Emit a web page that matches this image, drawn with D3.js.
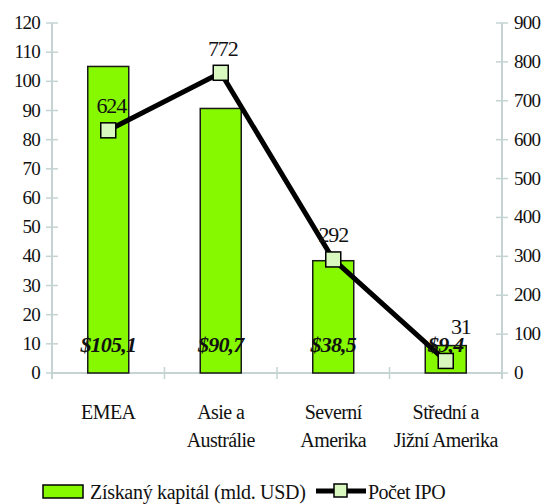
<!DOCTYPE html>
<html>
<head>
<meta charset="utf-8">
<script src="https://cdn.jsdelivr.net/npm/d3@7"></script>
<style>
  body { margin: 0; background: #fff; }
</style>
</head>
<body>
<svg id="chart" width="548" height="504" font-family="Liberation Serif" fill="#111"></svg>
<script>
// data
const regions = [["EMEA"], ["Asie a", "Austrálie"], ["Severní", "Amerika"], ["Střední a", "Jižní Amerika"]];
const capital = [105.1, 90.7, 38.5, 9.4];
const capitalLabels = ["$105,1", "$90,7", "$38,5", "$9,4"];
const ipoCount = [624, 772, 292, 31];
const leftTicks = [0, 10, 20, 30, 40, 50, 60, 70, 80, 90, 100, 110, 120];
const rightTicks = [0, 100, 200, 300, 400, 500, 600, 700, 800, 900];

const svg = d3.select("#chart");
const pLeft = 52, pRight = 502, pTop = 23, pBottom = 373;
const axisCol = "#c5d3d3";
const serif = "Liberation Serif";

const x = d3.scaleBand().domain(d3.range(regions.length)).range([pLeft, pRight]);
const yL = d3.scaleLinear().domain([0, 120]).range([pBottom, pTop]);
const yR = d3.scaleLinear().domain([0, 900]).range([pBottom, pTop]);

// left axis
const gl = svg.append("g");
gl.append("line").attr("x1", pLeft).attr("x2", pLeft).attr("y1", pTop).attr("y2", pBottom + 6)
  .attr("stroke", axisCol).attr("stroke-width", 2);
leftTicks.forEach(t => {
  gl.append("line").attr("x1", pLeft - 6).attr("x2", pLeft + 6).attr("y1", yL(t)).attr("y2", yL(t))
    .attr("stroke", axisCol).attr("stroke-width", 1.5);
  gl.append("text").attr("x", pLeft - 12).attr("y", yL(t) + 6).attr("text-anchor", "end")
    .attr("font-family", serif).attr("font-size", 19).attr("letter-spacing", -0.8).text(t);
});

// right axis
const gr = svg.append("g");
gr.append("line").attr("x1", pRight).attr("x2", pRight).attr("y1", pTop).attr("y2", pBottom + 6)
  .attr("stroke", axisCol).attr("stroke-width", 2);
rightTicks.forEach(t => {
  gr.append("line").attr("x1", pRight - 6).attr("x2", pRight + 6).attr("y1", yR(t)).attr("y2", yR(t))
    .attr("stroke", axisCol).attr("stroke-width", 1.5);
  gr.append("text").attr("x", pRight + 12).attr("y", yR(t) + 6).attr("text-anchor", "start")
    .attr("font-family", serif).attr("font-size", 19).attr("letter-spacing", -0.8).text(t);
});

// bottom axis
svg.append("line").attr("x1", pLeft).attr("x2", pRight).attr("y1", pBottom).attr("y2", pBottom)
  .attr("stroke", axisCol).attr("stroke-width", 2);
d3.range(regions.length + 1).forEach(i => {
  const xx = pLeft + i * x.step();
  svg.append("line").attr("x1", xx).attr("x2", xx).attr("y1", pBottom - 6).attr("y2", pBottom + 6)
    .attr("stroke", axisCol).attr("stroke-width", 1.5);
});

// bars
const bw = 41;
svg.selectAll("rect.bar").data(capital).enter().append("rect")
  .attr("class", "bar")
  .attr("x", (d, i) => x(i) + x.bandwidth() / 2 - bw / 2)
  .attr("y", d => yL(d))
  .attr("width", bw)
  .attr("height", d => pBottom - yL(d))
  .attr("fill", "#86f900").attr("stroke", "#1a1a1a").attr("stroke-width", 1.5);

// line
const line = d3.line().x((d, i) => x(i) + x.bandwidth() / 2).y(d => yR(d));
svg.append("path").datum(ipoCount).attr("d", line)
  .attr("fill", "none").attr("stroke", "#000").attr("stroke-width", 5);

// bar labels
svg.selectAll("text.bl").data(capitalLabels).enter().append("text")
  .attr("x", (d, i) => x(i) + x.bandwidth() / 2)
  .attr("y", 352)
  .attr("text-anchor", "middle")
  .attr("font-family", serif).attr("font-size", 22).attr("font-weight", "bold").attr("font-style", "italic")
  .attr("letter-spacing", -0.8)
  .text(d => d);

// markers
svg.selectAll("rect.mk").data(ipoCount).enter().append("rect")
  .attr("x", (d, i) => x(i) + x.bandwidth() / 2 - 7.5)
  .attr("y", d => yR(d) - 7.5)
  .attr("width", 15).attr("height", 15)
  .attr("fill", "#d8f8c0").attr("stroke", "#000").attr("stroke-width", 1.5);

// line labels (last one nudged up-right as in the original)
const lblDx = [3, 2, 0, 15];
const lblDy = [-17, -17, -17, -27];
svg.selectAll("text.ll").data(ipoCount).enter().append("text")
  .attr("x", (d, i) => x(i) + x.bandwidth() / 2 + lblDx[i])
  .attr("y", (d, i) => yR(d) + lblDy[i])
  .attr("text-anchor", "middle")
  .attr("font-family", serif).attr("font-size", 22).attr("letter-spacing", -1.2)
  .text(d => d);

// category labels
regions.forEach((lines, i) => {
  const t = svg.append("text").attr("text-anchor", "middle")
    .attr("font-family", serif).attr("font-size", 20).attr("letter-spacing", -0.6);
  lines.forEach((s, j) => {
    t.append("tspan").attr("x", x(i) + x.bandwidth() / 2).attr("y", 419 + j * 28).text(s);
  });
});

// legend
const lg = svg.append("g");
lg.append("rect").attr("x", 43).attr("y", 485).attr("width", 40).attr("height", 13)
  .attr("fill", "#86f900").attr("stroke", "#000").attr("stroke-width", 1.5);
lg.append("text").attr("x", 90).attr("y", 499).attr("font-family", serif)
  .attr("font-size", 20).attr("letter-spacing", -0.3)
  .text("Získaný kapitál (mld. USD)");
lg.append("line").attr("x1", 316).attr("x2", 366).attr("y1", 491).attr("y2", 491)
  .attr("stroke", "#000").attr("stroke-width", 5);
lg.append("rect").attr("x", 334).attr("y", 484).attr("width", 13).attr("height", 13)
  .attr("fill", "#d8f8c0").attr("stroke", "#000").attr("stroke-width", 1.5);
lg.append("text").attr("x", 368).attr("y", 499).attr("font-family", serif)
  .attr("font-size", 20).attr("letter-spacing", -0.5)
  .text("Počet IPO");
</script>
</body>
</html>
